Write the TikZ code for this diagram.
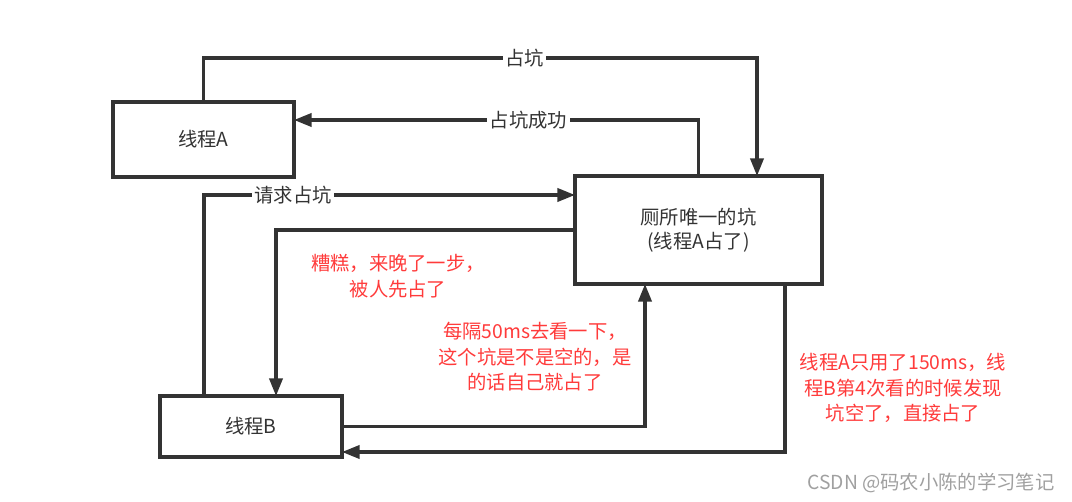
\documentclass[tikz,border=0pt]{standalone}
\usepackage{fontspec}
\setmainfont{Noto Sans CJK SC}
\usetikzlibrary{arrows.meta,positioning}
\definecolor{lineGray}{HTML}{333333}
\definecolor{noteRed}{HTML}{FF3B3B}
\definecolor{markGray}{HTML}{A0A0A0}
\tikzset{
  threadbox/.style={draw=lineGray, line width=1.8pt, align=center,
    text=lineGray, font=\fontsize{11}{14}\selectfont},
  arr/.style={-{Triangle[length=10pt,width=7.5pt]}, line width=1.8pt, draw=lineGray},
  lbl/.style={fill=white, inner sep=1.5pt, text=lineGray, font=\fontsize{11}{14}\selectfont},
  note/.style={align=center, text=noteRed, font=\fontsize{11}{14.5}\selectfont},
  watermark/.style={text=markGray, font=\fontsize{11}{13}\selectfont}
}
\begin{document}
\begin{tikzpicture}[x=0.02cm, y=-0.02cm]
    \useasboundingbox (0,0) rectangle (1072,502);
    \node[threadbox, minimum width=3.62cm, minimum height=1.5cm] (thA) at (203.5,139.5) {线程A};
    \node[threadbox, minimum width=4.94cm, minimum height=2.16cm] (pit) at (698.5,230) {厕所唯一的坑\\(线程A占了)};
    \node[threadbox, minimum width=3.64cm, minimum height=1.22cm] (thB) at (251,426.5) {线程B};
    % attach points on the box edges
    \coordinate (pitA) at (757,176);
    \coordinate (thAin) at (294,120);
    \coordinate (thBout) at (204,396);
    \coordinate (pitB) at (575,195);
    \coordinate (thBin) at (276,396);
    \coordinate (pitC) at (645,284);
    \coordinate (pitD) at (785,284);
    \coordinate (thBlow) at (342,452);
    \draw[arr] (thA.north) |- node[lbl, pos=0.79] {占坑} (757,58) -- (pitA);
    \draw[arr] (pit.north) |- node[lbl, pos=0.71] {占坑成功} (thAin);
    \draw[arr] (thBout) |- node[lbl, pos=0.62] {请求占坑} (pitB);
    \draw[arr] (pit.west) -| (thBin);
    \draw[arr] (thB.east) -| (pitC);
    \draw[arr] (pitD) |- (thBlow);
    % notes
    \node[note] (late) at (398,276) {糟糕，来晚了一步，\\被人先占了};
    \node[note] (poll) at (535,357) {每隔50ms去看一下，\\这个坑是不是空的，是\\的话自己就占了};
    \node[note] (grab) at (903,388) {线程A只用了150ms，线\\程B第4次看的时候发现\\坑空了，直接占了};
    \node[watermark] (csdn) at (931,483) {CSDN @码农小陈的学习笔记};
  \end{tikzpicture}
\end{document}
